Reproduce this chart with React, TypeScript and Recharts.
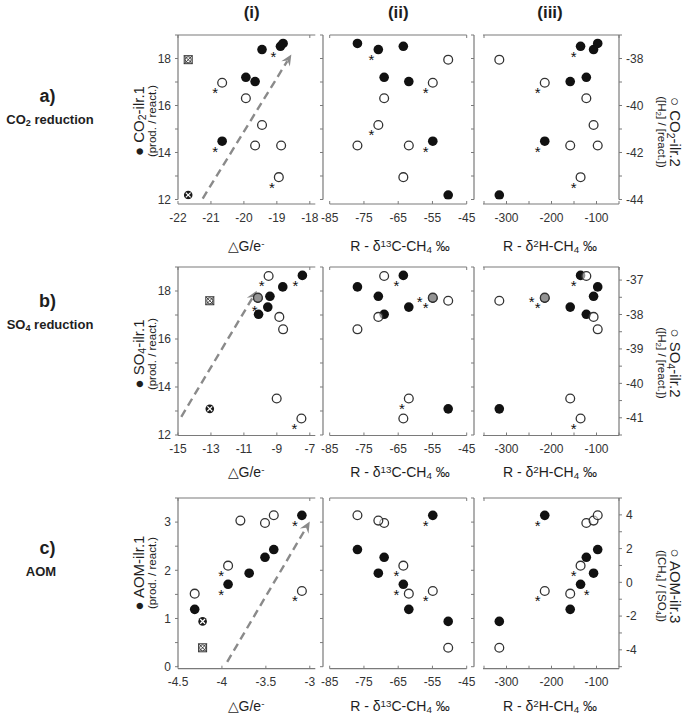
import React from 'react'
import { ScatterChart, Scatter, XAxis, YAxis, ReferenceLine } from 'recharts'

const FONT = '"Liberation Sans", Arial, Helvetica, sans-serif'
const AXIS = '#7a7a7a'
const INK = '#1e1e1e'
const ARROW = '#8a8a8a'

// the same seven incubations (A..G) appear in every row; G is drawn crossed in column (i)
const d13C = [-54.9, -69.1, -70.8, -61.9, -63.5, -76.9, -50.4]
const d2H = [-215, -122.6, -106.5, -158.4, -135.4, -97.3, -316]
const d13CTicks = [-85, -75, -65, -55, -45]
const d2HTicks = [-350, -300, -250, -200, -150, -100, -50]
const d2HLabels = [-300, -200, -100]

// a) CO2 reduction
const co2Ilr1 = [14.48, 17.2, 18.38, 17.02, 18.52, 18.64, 12.19]
const co2Ilr2 = [-39.03, -39.69, -40.83, -41.7, -43.05, -41.7, -38.05]
const co2DgFilled = [-20.66, -19.94, -19.45, -19.66, -18.89, -18.81, -21.69]
const co2DgOpen = [-20.66, -19.94, -19.45, -19.66, -18.94, -18.87, -21.69]
const co2DgTicks = [-22, -21, -20, -19, -18]
const co2LeftTicks = [12, 13, 14, 15, 16, 17, 18, 19]
const co2RightTicks = [-44, -43, -42, -41, -40, -39, -38, -37]
const co2Arrow = [[-21.25, 12.04], [-18.56, 18.17]]
const co2Stars = [['f0', 'o0', 'f4', 'o4'], ['f0', 'o0', 'f2', 'o2'], ['f0', 'o0', 'f4', 'o4']]

// b) SO4 reduction
const so4Ilr1 = [17.7, 17.03, 17.78, 17.33, 18.65, 18.17, 13.09]
const so4Ilr2 = [-37.51, -36.88, -38.07, -40.44, -41.02, -38.43, -37.6]
const so4DgFilled = [-10.15, -10.11, -9.42, -9.55, -7.45, -8.64, -13.07]
const so4DgOpen = [-10.15, -9.5, -8.85, -9.01, -7.51, -8.62, -13.07]
const so4DgTicks = [-15, -13, -11, -9, -7]
const so4LeftTicks = [12, 13, 14, 15, 16, 17, 18, 19]
const so4RightTicks = [-41.5, -41, -40.5, -40, -39.5, -39, -38.5, -38, -37.5, -37]
const so4Arrow = [[-14.8, 12.76], [-10.22, 18.01]]
const so4Stars = [['f4', 'o4', 'o1', 'f3<'], ['f4', 'o3', 'f0<', 'o0'], ['f4', 'o4', 'f0<', 'o0']]

// c) AOM
const aomIlr1 = [3.14, 2.27, 1.94, 1.19, 1.71, 2.43, 0.94]
const aomIlr3 = [-0.51, 3.52, 3.66, -0.67, 0.99, 3.98, -3.88]
const aomDgFilled = [-3.09, -3.51, -3.69, -4.31, -3.93, -3.41, -4.22]
const aomDgOpen = [-3.09, -3.51, -3.79, -4.31, -3.93, -3.41, -4.22]
const aomDgTicks = [-4.5, -4, -3.5, -3]
const aomLeftTicks = [0, 0.5, 1, 1.5, 2, 2.5, 3, 3.5]
const aomRightTicks = [-5, -4, -3, -2, -1, 0, 1, 2, 3, 4, 5]
const aomArrow = [[-3.94, 0.1], [-3.0, 3.01]]
const aomStars = [['f0', 'o0', 'f4', 'o4'], ['f0', 'o0', 'f4', 'o4'], ['f0', 'o0', 'o4', 'f4>']]

const rows = [
  {
    id: 'a', name: 'CO', nameSub: '2', ilr1: co2Ilr1, ilr2: co2Ilr2, dgF: co2DgFilled, dgO: co2DgOpen,
    dgDomain: [-22, -18], dgTicks: co2DgTicks, dgLabels: co2DgTicks,
    lDomain: [12, 19], lTicks: co2LeftTicks, lLabels: [12, 14, 16, 18],
    rDomain: [-44, -37], rTicks: co2RightTicks, rLabels: [-44, -42, -40, -38],
    arrow: co2Arrow, stars: co2Stars,
    top: 35, bottom: 204, padBottom: 4.5, titleY: 246, leftLabelY: 121, rightLabelY: 132, tagY: 96,
  },
  {
    id: 'b', name: 'SO', nameSub: '4', ilr1: so4Ilr1, ilr2: so4Ilr2, dgF: so4DgFilled, dgO: so4DgOpen,
    dgDomain: [-15, -7], dgTicks: so4DgTicks, dgLabels: so4DgTicks,
    lDomain: [12, 19], lTicks: so4LeftTicks, lLabels: [12, 14, 16, 18],
    rDomain: [-41.5, -36.62], rTicks: so4RightTicks, rLabels: [-41, -40, -39, -38, -37],
    arrow: so4Arrow, stars: so4Stars,
    top: 266.5, bottom: 435, padBottom: 0.5, titleY: 472, leftLabelY: 354, rightLabelY: 363, tagY: 301,
  },
  {
    id: 'c', name: 'AOM', nameSub: '', ilr1: aomIlr1, ilr2: aomIlr3, dgF: aomDgFilled, dgO: aomDgOpen,
    dgDomain: [-4.5, -3], dgTicks: aomDgTicks, dgLabels: aomDgTicks,
    lDomain: [0, 3.5], lTicks: aomLeftTicks, lLabels: [0, 1, 2, 3],
    rDomain: [-5, 5], rTicks: aomRightTicks, rLabels: [-4, -2, 0, 2, 4],
    arrow: aomArrow, stars: aomStars,
    top: 498.3, bottom: 669, padBottom: 2, titleY: 706, leftLabelY: 573, rightLabelY: 586, tagY: 548,
  },
]

const cols = [
  { left: 177.7, width: 137.3, padLeft: 0, padRight: 5.5, gap: 0, titleX: 246 },
  { left: 323.3, width: 143.7, padLeft: 6.7, padRight: 0, gap: 6.7, titleX: 400 },
  { left: 474.3, width: 145, padLeft: 10, padRight: 0, gap: 9, titleX: 550 },
]

const fmt = (labels: number[]) => (v: number) =>
  labels.some(l => Math.abs(l - v) < 1e-9) ? String(v) : ''
const blank = () => ''

function makePoints(xs: number[], ys: number[], kind: string, stars: string[], crossed: boolean) {
  return xs.map((x, i) => {
    const tag = stars.find(s => s.slice(0, 2) === kind + i)
    const star = !tag ? '' : tag.endsWith('<') ? 'w' : tag.endsWith('>') ? 'e' : 'sw'
    return { x, y: ys[i], star, crossed: crossed && i === 6 }
  })
}

function Asterisk({ cx, cy, side }: { cx: number; cy: number; side: string }) {
  const dx = side === 'e' ? 6 : side === 'w' ? -13 : -7
  const dy = side === 'w' ? 0 : 7
  return (
    <text x={cx + dx} y={cy + dy + 8.5} textAnchor="middle" fontSize={15} fontFamily={FONT} fill="#111">*</text>
  )
}

const FilledDot = (p: any) => {
  const { cx, cy, payload } = p
  if (cx == null || cy == null) return null
  return (
    <g>
      {payload.crossed ? (
        <g>
          <circle cx={cx} cy={cy} r={4.3} fill="#1a1a1a" />
          <path d={`M${cx - 2.4},${cy - 2.4}L${cx + 2.4},${cy + 2.4}M${cx - 2.4},${cy + 2.4}L${cx + 2.4},${cy - 2.4}`} stroke="#fff" strokeWidth={1.2} />
        </g>
      ) : (
        <circle cx={cx} cy={cy} r={4.8} fill="#111" />
      )}
      {payload.star && <Asterisk cx={cx} cy={cy} side={payload.star} />}
    </g>
  )
}

const OpenDot = (p: any) => {
  const { cx, cy, payload } = p
  if (cx == null || cy == null) return null
  return (
    <g>
      {payload.crossed ? (
        <g>
          <rect x={cx - 4} y={cy - 4} width={8} height={8} fill="#fff" stroke="#333" strokeWidth={1} />
          <circle cx={cx} cy={cy} r={3} fill="none" stroke="#333" strokeWidth={0.9} />
          <path d={`M${cx - 4},${cy - 4}L${cx + 4},${cy + 4}M${cx - 4},${cy + 4}L${cx + 4},${cy - 4}`} stroke="#333" strokeWidth={0.9} />
        </g>
      ) : (
        <circle cx={cx} cy={cy} r={4.4} fill="#fff" fillOpacity={0.55} stroke="#333" strokeWidth={1.3} />
      )}
      {payload.star && <Asterisk cx={cx} cy={cy} side={payload.star} />}
    </g>
  )
}

const ArrowShape = (p: any) => {
  const { x1, y1, x2, y2 } = p
  if ([x1, y1, x2, y2].some(v => v == null || Number.isNaN(v))) return null
  const len = Math.hypot(x2 - x1, y2 - y1)
  const ux = (x2 - x1) / len
  const uy = (y2 - y1) / len
  const head = 11
  const half = 5
  const bx = x2 - ux * head
  const by = y2 - uy * head
  const nx = -uy
  const ny = ux
  const pts = [
    [x2, y2],
    [bx + nx * half, by + ny * half],
    [x2 - ux * head * 0.65, y2 - uy * head * 0.65],
    [bx - nx * half, by - ny * half],
  ].map(q => q.join(',')).join(' ')
  return (
    <g>
      <line x1={x1} y1={y1} x2={x2 - ux * head * 0.7} y2={y2 - uy * head * 0.7} stroke={ARROW} strokeWidth={2.4} strokeDasharray="8 5" />
      <polygon points={pts} fill={ARROW} />
    </g>
  )
}

const tickText = { fontSize: 12, fill: '#333', fontFamily: FONT }

function Panel({ r, ci }: { r: typeof rows[number]; ci: number }) {
  const c = cols[ci]
  const plotH = r.bottom - r.top
  const xsF = ci === 0 ? r.dgF : ci === 1 ? d13C : d2H
  const xsO = ci === 0 ? r.dgO : ci === 1 ? d13C : d2H
  const xDomain = ci === 0 ? r.dgDomain : ci === 1 ? [-85, -45] : [-350, -50]
  const xTicks = ci === 0 ? r.dgTicks : ci === 1 ? d13CTicks : d2HTicks
  const xLabels = ci === 0 ? r.dgLabels : ci === 1 ? d13CTicks : d2HLabels
  const filled = makePoints(xsF, r.ilr1, 'f', r.stars[ci], ci === 0)
  const open = makePoints(xsO, r.ilr2, 'o', r.stars[ci], ci === 0)
  const xLine = c.gap > 0
    ? { stroke: AXIS, strokeWidth: 1.2, strokeDasharray: `0 ${c.gap} ${c.width - c.gap} 1000` }
    : { stroke: AXIS, strokeWidth: 1.2 }
  const yLine = { stroke: AXIS, strokeWidth: 1.2, strokeDasharray: `${plotH - r.padBottom} 1000` }
  const width = c.width + 90
  const height = plotH + 40
  const xPad = { left: c.padLeft, right: c.padRight }

  return (
    <div style={{ position: 'absolute', left: c.left - 45, top: r.top - 10 }}>
      <ScatterChart width={width} height={height} margin={{ top: 5, right: 0, bottom: 0, left: 0 }}>
        <XAxis
          xAxisId="t" orientation="top" type="number" dataKey="x" domain={xDomain} allowDataOverflow
          ticks={[xDomain[0], xDomain[1]]} interval={0} padding={xPad} height={5}
          tickFormatter={blank} tickSize={-3} axisLine={xLine} tickLine={{ stroke: AXIS }}
        />
        <XAxis
          xAxisId="b" type="number" dataKey="x" domain={xDomain} allowDataOverflow
          ticks={xTicks} interval={0} padding={xPad} height={30}
          tickFormatter={fmt(xLabels)} tickSize={-3} tickMargin={12} tick={tickText}
          axisLine={xLine} tickLine={{ stroke: AXIS }}
        />
        <YAxis
          yAxisId="l" type="number" dataKey="y" domain={r.lDomain} allowDataOverflow
          ticks={r.lTicks} interval={0} padding={{ top: 0, bottom: r.padBottom }} width={45}
          tickFormatter={ci === 0 ? fmt(r.lLabels) : blank} tickSize={3} tickMargin={4} tick={tickText}
          axisLine={yLine} tickLine={{ stroke: AXIS }}
        />
        <YAxis
          yAxisId="r" orientation="right" type="number" dataKey="y" domain={r.rDomain} allowDataOverflow
          ticks={r.rTicks} interval={0} padding={{ top: 0, bottom: r.padBottom }} width={45}
          tickFormatter={ci === 2 ? fmt(r.rLabels) : blank} tickSize={3} tickMargin={4} tick={tickText}
          axisLine={ci === 2 ? yLine : false} tickLine={ci === 2 ? { stroke: AXIS } : false}
        />
        {ci === 0 && (
          <ReferenceLine
            xAxisId="b" yAxisId="l" ifOverflow="visible"
            segment={[{ x: r.arrow[0][0], y: r.arrow[0][1] }, { x: r.arrow[1][0], y: r.arrow[1][1] }]}
            shape={ArrowShape}
          />
        )}
        <Scatter data={filled} xAxisId="b" yAxisId="l" shape={FilledDot} isAnimationActive={false} />
        <Scatter data={open} xAxisId="b" yAxisId="r" shape={OpenDot} isAnimationActive={false} />
      </ScatterChart>
    </div>
  )
}

const abs = (x: number, y: number, extra: React.CSSProperties = {}): React.CSSProperties => ({
  position: 'absolute', left: x, top: y, transform: 'translate(-50%, -50%)', whiteSpace: 'nowrap', lineHeight: 1, ...extra,
})
const sub: React.CSSProperties = { fontSize: '70%', verticalAlign: '-0.25em', lineHeight: 0 }
const sup: React.CSSProperties = { fontSize: '70%', verticalAlign: '0.45em', lineHeight: 0 }

function YLabel({ x, y, rot, line1, line2 }: { x: number; y: number; rot: number; line1: React.ReactNode; line2: React.ReactNode }) {
  return (
    <div style={{ ...abs(x, y), transform: `translate(-50%, -50%) rotate(${rot}deg)`, textAlign: 'center' }}>
      <div style={{ fontSize: 15, lineHeight: '14px' }}>{line1}</div>
      <div style={{ fontSize: 11.5, lineHeight: '13px' }}>{line2}</div>
    </div>
  )
}

const xTitles = [
  <span>△G/e<span style={sup}>-</span></span>,
  <span>R - δ<span style={sup}>13</span>C-CH<span style={sub}>4</span> ‰</span>,
  <span>R - δ<span style={sup}>2</span>H-CH<span style={sub}>4</span> ‰</span>,
]

const rightLine2 = [
  <span>([H<span style={sub}>2</span>] / [react.])</span>,
  <span>([H<span style={sub}>2</span>] / [react.])</span>,
  <span>([CH<span style={sub}>4</span>] / [SO<span style={sub}>4</span>])</span>,
]
const rightIlr = ['ilr.2', 'ilr.2', 'ilr.3']

export default function App() {
  return (
    <div style={{ position: 'absolute', left: 0, top: 0, width: 685, height: 714, background: '#fff', fontFamily: FONT, color: INK, overflow: 'hidden' }}>
      {['(i)', '(ii)', '(iii)'].map((t, i) => (
        <div key={t} style={abs([251.7, 398.3, 550][i], 12, { fontSize: 17, fontWeight: 'bold' })}>{t}</div>
      ))}
      {rows.map((r, ri) => (
        <React.Fragment key={r.id}>
          <div style={abs(47.5, r.tagY, { fontSize: 18, fontWeight: 'bold' })}>{r.id})</div>
          <div style={abs(ri === 2 ? 41 : 50, r.tagY + 23, { fontSize: 13, fontWeight: 'bold' })}>
            {r.name}{r.nameSub && <span style={sub}>{r.nameSub}</span>}{ri < 2 ? ' reduction' : ''}
          </div>
          {cols.map((c, ci) => (
            <React.Fragment key={ci}>
              <Panel r={r} ci={ci} />
              <div style={abs(c.titleX, r.titleY, { fontSize: 14 })}>{xTitles[ci]}</div>
            </React.Fragment>
          ))}
          <YLabel
            x={144.5} y={r.leftLabelY} rot={-90}
            line1={<span>● {r.name}{r.nameSub && <span style={sub}>{r.nameSub}</span>}-ilr.1</span>}
            line2="(prod. / react.)"
          />
          <YLabel
            x={668} y={r.rightLabelY} rot={90}
            line1={<span>○ {r.name}{r.nameSub && <span style={sub}>{r.nameSub}</span>}-{rightIlr[ri]}</span>}
            line2={rightLine2[ri]}
          />
        </React.Fragment>
      ))}
    </div>
  )
}
